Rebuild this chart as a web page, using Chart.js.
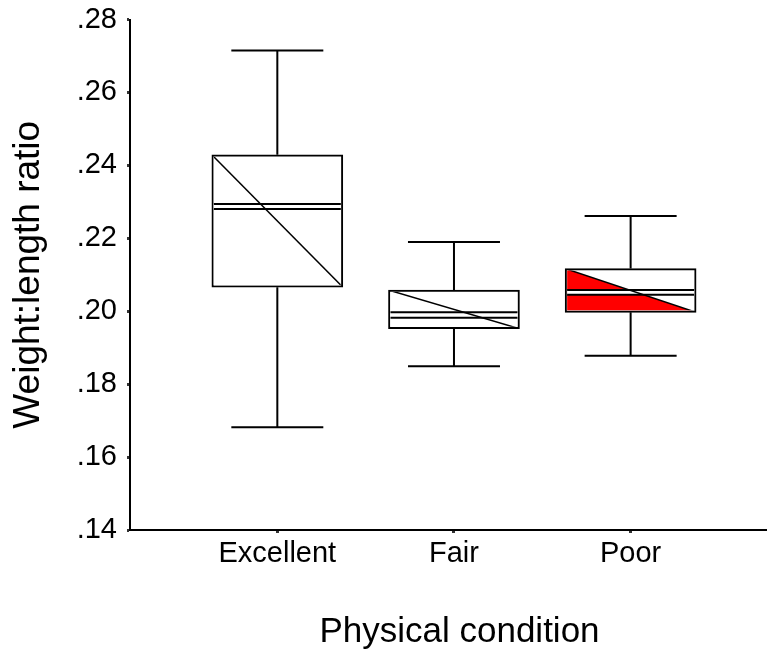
<!DOCTYPE html>
<html>
<head>
<meta charset="utf-8">
<title>Weight:length ratio by physical condition</title>
<script src="https://cdn.jsdelivr.net/npm/chart.js@4.4.1/dist/chart.umd.min.js"></script>
<style>
  html, body { margin: 0; padding: 0; background: #fff; }
  canvas { display: block; }
</style>
</head>
<body>
<canvas id="chart" width="767" height="650"></canvas>
<script>
// Data
const categories = ['Excellent', 'Fair', 'Poor'];
const whiskerLow = [0.1682, 0.1849, 0.1878];
const boxLow = [0.2066, 0.1952, 0.1997];
const midLow = [0.2280, 0.1982, 0.2045];
const midHigh = [0.2294, 0.1997, 0.2058];
const boxHigh = [0.2429, 0.2058, 0.2117];
const whiskerHigh = [0.2715, 0.2190, 0.2261];
const yTicks = [0.14, 0.16, 0.18, 0.20, 0.22, 0.24, 0.26, 0.28];
const triangleFill = ['#ffffff', '#ffffff', '#ff0000'];

// Style
const FONT = "'Liberation Sans', Arial, Helvetica, sans-serif";
const CAP_WIDTH = 92;
const BORDER = 2;

// Whiskers, diagonal and the two middle lines of each box
const boxExtras = {
    id: 'boxExtras',
    afterDatasetsDraw(chart) {
        const ctx = chart.ctx;
        const y = chart.scales.y;
        const bars = chart.getDatasetMeta(0).data;
        ctx.save();
        bars.forEach((bar, i) => {
            const cx = bar.x;
            const half = bar.width / 2;
            const left = cx - half;
            const right = cx + half;
            const top = y.getPixelForValue(boxHigh[i]);
            const bottom = y.getPixelForValue(boxLow[i]);
            const hi = y.getPixelForValue(whiskerHigh[i]);
            const lo = y.getPixelForValue(whiskerLow[i]);

            ctx.strokeStyle = '#000';
            ctx.lineWidth = 2;
            ctx.beginPath();
            ctx.moveTo(cx, top); ctx.lineTo(cx, hi);
            ctx.moveTo(cx - CAP_WIDTH / 2, hi); ctx.lineTo(cx + CAP_WIDTH / 2, hi);
            ctx.moveTo(cx, bottom); ctx.lineTo(cx, lo);
            ctx.moveTo(cx - CAP_WIDTH / 2, lo); ctx.lineTo(cx + CAP_WIDTH / 2, lo);
            ctx.stroke();

            // inside the box only
            ctx.save();
            ctx.beginPath();
            ctx.rect(left + BORDER, top + BORDER, bar.width - 2 * BORDER, bottom - top - 2 * BORDER);
            ctx.clip();

            ctx.fillStyle = triangleFill[i];
            ctx.beginPath();
            ctx.moveTo(left, top);
            ctx.lineTo(right, bottom);
            ctx.lineTo(left, bottom);
            ctx.closePath();
            ctx.fill();

            const m1 = y.getPixelForValue(midHigh[i]);
            const m2 = y.getPixelForValue(midLow[i]);
            ctx.fillStyle = '#fff';
            ctx.fillRect(left, m1, bar.width, m2 - m1);

            ctx.lineWidth = 1.5;
            ctx.beginPath();
            ctx.moveTo(left, top);
            ctx.lineTo(right, bottom);
            ctx.stroke();

            ctx.lineWidth = 2;
            ctx.beginPath();
            ctx.moveTo(left, m1); ctx.lineTo(right, m1);
            ctx.moveTo(left, m2); ctx.lineTo(right, m2);
            ctx.stroke();
            ctx.restore();
        });
        ctx.restore();
    }
};

// x axis title sits a little right of the plot centre, as in the original
const xTitle = {
    id: 'xTitle',
    afterDraw(chart) {
        const { ctx, chartArea } = chart;
        ctx.save();
        ctx.font = '35px ' + FONT;
        ctx.fillStyle = '#000';
        ctx.textAlign = 'center';
        ctx.textBaseline = 'alphabetic';
        ctx.fillText('Physical condition', (chartArea.left + chartArea.right) / 2 + 11, chartArea.bottom + 112);
        ctx.restore();
    }
};

new Chart(document.getElementById('chart'), {
    type: 'bar',
    data: {
        datasets: [{
            data: categories.map((c, i) => ({ x: i, y: [boxLow[i], boxHigh[i]] })),
            backgroundColor: '#fff',
            borderColor: '#000',
            borderWidth: BORDER,
            borderSkipped: false,
            barThickness: 131
        }]
    },
    options: {
        responsive: false,
        animation: false,
        devicePixelRatio: 1,
        layout: { padding: { top: 19.5, right: 0, bottom: 0, left: 0 } },
        plugins: {
            legend: { display: false },
            tooltip: { enabled: false }
        },
        scales: {
            x: {
                type: 'linear',
                offset: false,
                min: -0.834,
                max: 2.772,
                afterBuildTicks: s => { s.ticks = categories.map((c, i) => ({ value: i })); },
                afterFit: s => { s.height = 120; },
                ticks: {
                    callback: v => categories[v],
                    color: '#000',
                    font: { family: FONT, size: 29 },
                    padding: 4,
                    maxRotation: 0,
                    autoSkip: false
                },
                grid: { offset: false, drawOnChartArea: false, tickLength: 3, tickWidth: 3, tickColor: '#333' },
                border: { color: '#000', width: 2 }
            },
            y: {
                min: 0.14,
                max: 0.28,
                afterBuildTicks: s => { s.ticks = yTicks.map(v => ({ value: v })); },
                afterFit: s => { s.width = 130; s.paddingTop = 0; s.paddingBottom = 0; },
                ticks: {
                    callback: v => v.toFixed(2).replace(/^0/, ''),
                    color: '#000',
                    font: { family: FONT, size: 29 },
                    padding: 10
                },
                grid: { drawOnChartArea: false, tickLength: 3, tickWidth: 3, tickColor: '#333' },
                border: { color: '#000', width: 2 },
                title: {
                    display: true,
                    text: 'Weight:length ratio',
                    color: '#000',
                    font: { family: FONT, size: 37 },
                    padding: { top: 7, bottom: 0 }
                }
            }
        }
    },
    plugins: [boxExtras, xTitle]
});
</script>
</body>
</html>
